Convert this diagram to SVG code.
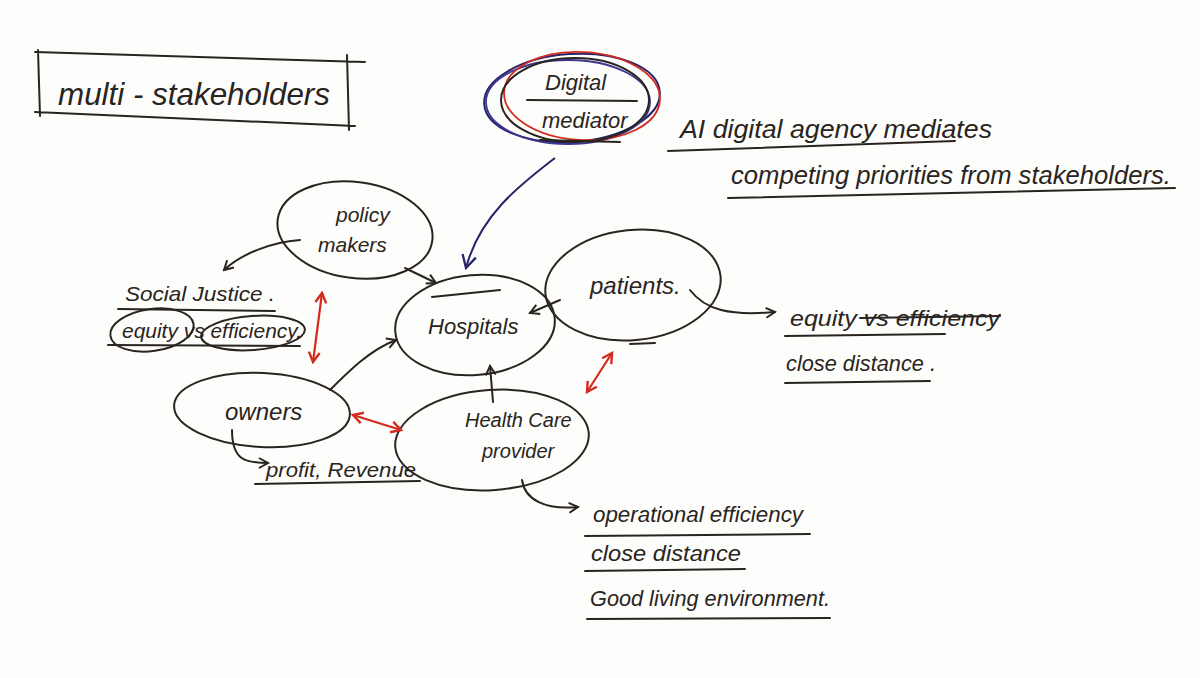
<svg xmlns="http://www.w3.org/2000/svg" width="1200" height="678" viewBox="0 0 1200 678">
<defs>
<marker id="ah" viewBox="0 0 12 12" refX="10" refY="6" markerWidth="12" markerHeight="12" markerUnits="userSpaceOnUse" orient="auto-start-reverse">
<path d="M1,1 L10,6 L1,11" fill="none" stroke="#2a2420" stroke-width="2"/>
</marker>
<marker id="ahb" viewBox="0 0 14 14" refX="12" refY="7" markerWidth="16" markerHeight="16" markerUnits="userSpaceOnUse" orient="auto">
<path d="M1,1 L12,7 L1,13" fill="none" stroke="#28246a" stroke-width="2"/>
</marker>
<marker id="ahr" viewBox="0 0 12 12" refX="10" refY="6" markerWidth="13" markerHeight="13" markerUnits="userSpaceOnUse" orient="auto-start-reverse">
<path d="M1,1 L10,6 L1,11" fill="none" stroke="#d42a1e" stroke-width="2.2"/>
</marker>
</defs>
<style>
.ink{fill:none;stroke:#2a2420;stroke-width:2;stroke-linecap:round}
.node{fill:none;stroke:#2a2420;stroke-width:2}
.t{font-family:"Liberation Sans",Arial,sans-serif;font-style:italic;fill:#2a2420}
.red{fill:none;stroke:#d42a1e;stroke-width:2.2;stroke-linecap:round}
</style>
<rect width="1200" height="678" fill="#fdfdfb"/>

<g id="title">
<path class="ink" d="M35,52 L365,62 M35,112 L355,126 M38,50 L40,116 M347,55 L349,130"/>
<text class="t" x="58" y="105" font-size="32" textLength="272" lengthAdjust="spacingAndGlyphs">multi - stakeholders</text>
</g>

<g id="digital-mediator">
<ellipse cx="572" cy="98" rx="88" ry="44" fill="none" stroke="#28246a" stroke-width="2" transform="rotate(-4 572 98)"/>
<ellipse cx="568" cy="102" rx="82" ry="42" fill="none" stroke="#3a3890" stroke-width="1.8"/>
<ellipse cx="582" cy="96" rx="78" ry="44" fill="none" stroke="#d42a1e" stroke-width="1.8" transform="rotate(3 582 96)"/>
<ellipse cx="575" cy="100" rx="74" ry="42" fill="none" stroke="#2a2420" stroke-width="2"/>
<text class="t" x="545" y="90" font-size="22">Digital</text>
<path class="ink" d="M527,100 L637,101"/>
<text class="t" x="542" y="128" font-size="22">mediator</text>
<path class="ink" d="M540,140 L620,142"/>
</g>

<g id="ai-note">
<text class="t" x="680" y="138" font-size="26" textLength="312" lengthAdjust="spacingAndGlyphs">AI digital agency mediates</text>
<path class="ink" d="M668,151 L955,141"/>
<text class="t" x="731" y="184" font-size="26" textLength="440" lengthAdjust="spacingAndGlyphs">competing priorities from stakeholders.</text>
<path class="ink" d="M728,198 L1175,188"/>
</g>

<g id="policy-makers">
<ellipse class="node" cx="355" cy="230" rx="78" ry="48" transform="rotate(8 355 230)"/>
<text class="t" x="336" y="222" font-size="21">policy</text>
<text class="t" x="318" y="252" font-size="21">makers</text>
</g>

<g id="social-justice">
<text class="t" x="125" y="301" font-size="21" textLength="150" lengthAdjust="spacingAndGlyphs">Social Justice .</text>
<path class="ink" d="M118,309 L275,311"/>
<ellipse class="node" cx="152" cy="330" rx="42" ry="21" transform="rotate(-8 152 330)"/>
<ellipse class="node" cx="253" cy="333" rx="52" ry="17" transform="rotate(-4 253 333)"/>
<text class="t" x="122" y="338" font-size="20" textLength="180" lengthAdjust="spacingAndGlyphs">equity vs efficiency.</text>
<path class="ink" d="M108,345 L300,346"/>
</g>

<g id="hospitals">
<ellipse class="node" cx="475" cy="325" rx="80" ry="50" transform="rotate(-5 475 325)"/>
<path class="ink" d="M432,297 L500,290"/>
<text class="t" x="428" y="334" font-size="22">Hospitals</text>
</g>

<g id="patients">
<ellipse class="node" cx="633" cy="285" rx="88" ry="55" transform="rotate(-6 633 285)"/>
<text class="t" x="590" y="294" font-size="24">patients.</text>
<path class="ink" d="M630,344 L655,343"/>
</g>

<g id="patient-values">
<text class="t" x="790" y="326" font-size="22" textLength="210" lengthAdjust="spacingAndGlyphs">equity vs efficiency</text>
<path class="ink" d="M860,318 L1000,316"/>
<path class="ink" d="M785,336 L945,334"/>
<text class="t" x="786" y="371" font-size="22" textLength="150" lengthAdjust="spacingAndGlyphs">close distance .</text>
<path class="ink" d="M785,383 L930,381"/>
</g>

<g id="owners">
<ellipse class="node" cx="262" cy="410" rx="88" ry="37" transform="rotate(3 262 410)"/>
<text class="t" x="225" y="420" font-size="24">owners</text>
</g>

<g id="owner-values">
<text class="t" x="266" y="477" font-size="21" textLength="150" lengthAdjust="spacingAndGlyphs">profit, Revenue</text>
<path class="ink" d="M255,484 L420,481"/>
</g>

<g id="health-care-provider">
<ellipse class="node" cx="492" cy="440" rx="97" ry="50" transform="rotate(-4 492 440)"/>
<text class="t" x="465" y="427" font-size="20">Health Care</text>
<text class="t" x="482" y="458" font-size="20">provider</text>
</g>

<g id="provider-values">
<text class="t" x="593" y="522" font-size="22" textLength="210" lengthAdjust="spacingAndGlyphs">operational efficiency</text>
<path class="ink" d="M585,536 L810,534"/>
<text class="t" x="591" y="561" font-size="22" textLength="150" lengthAdjust="spacingAndGlyphs">close distance</text>
<path class="ink" d="M585,571 L745,569"/>
<text class="t" x="590" y="606" font-size="22" textLength="240" lengthAdjust="spacingAndGlyphs">Good living environment.</text>
<path class="ink" d="M587,619 L830,618"/>
</g>

<g id="connectors">
<path d="M555,158 C520,185 480,215 466,268" fill="none" stroke="#28246a" stroke-width="2" marker-end="url(#ahb)"/>
<path class="ink" d="M300,240 C270,242 240,255 224,270" marker-end="url(#ah)"/>
<path class="ink" d="M405,268 L436,283" marker-end="url(#ah)"/>
<path class="ink" d="M560,300 L530,313" marker-end="url(#ah)"/>
<path class="ink" d="M690,290 C705,310 730,316 775,312" marker-end="url(#ah)"/>
<path class="ink" d="M330,390 C350,370 370,350 396,340" marker-end="url(#ah)"/>
<path class="ink" d="M232,430 C232,460 245,463 268,463" marker-end="url(#ah)"/>
<path class="ink" d="M493,402 L490,366" marker-end="url(#ah)"/>
<path class="ink" d="M522,480 C525,500 545,510 578,507" marker-end="url(#ah)"/>
<path class="red" d="M322,293 L313,362" marker-start="url(#ahr)" marker-end="url(#ahr)"/>
<path class="red" d="M612,353 L587,392" marker-start="url(#ahr)" marker-end="url(#ahr)"/>
<path class="red" d="M353,415 L401,430" marker-start="url(#ahr)" marker-end="url(#ahr)"/>
</g>
</svg>
